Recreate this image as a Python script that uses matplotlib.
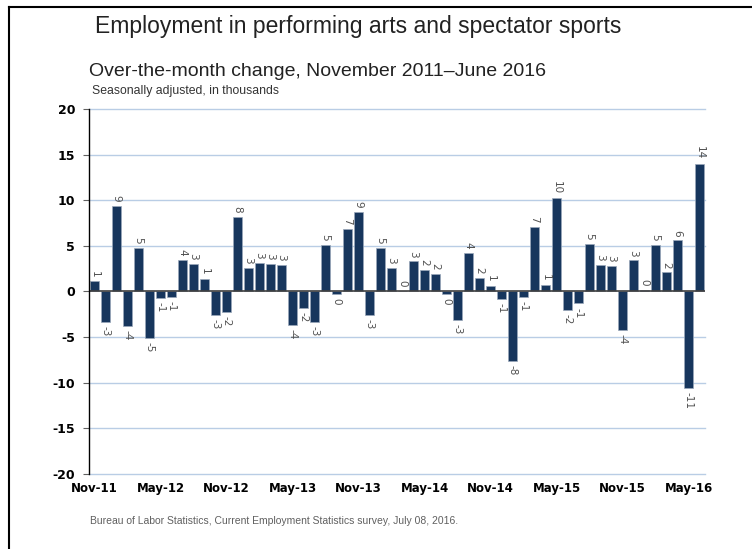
import matplotlib.pyplot as plt
from matplotlib.lines import Line2D

# monthly over-the-month change, Nov 2011 .. Jun 2016 (thousands)
values = [
    1.1, -3.3,                                                     # 2011
    9.4, -3.8, 4.8, -5.1, -0.7, -0.6, 3.5, 3.0, 1.4, -2.6, -2.2, 8.2,   # 2012
    2.6, 3.1, 3.0, 2.9, -3.7, -1.8, -3.3, 5.1, -0.3, 6.9, 8.7, -2.55,   # 2013
    4.8, 2.6, 0.1, 3.3, 2.4, 1.9, -0.3, -3.1, 4.2, 1.5, 0.6, -0.8,      # 2014
    -7.6, -0.55, 7.1, 0.7, 10.2, -2.0, -1.3, 5.2, 2.9, 2.8, -4.2, 3.4,  # 2015
    0.2, 5.1, 2.1, 5.6, -10.6, 14.0,                               # 2016
]
tick_labels = ['Nov-11', 'May-12', 'Nov-12', 'May-13', 'Nov-13',
               'May-14', 'Nov-14', 'May-15', 'Nov-15', 'May-16']
y_ticks = [20, 15, 10, 5, 0, -5, -10, -15, -20]

bar_color = '#17365d'
grid_color = '#b9cde5'

fig = plt.figure(figsize=(7.52, 5.49), dpi=100)
ax = fig.add_axes([0.1184, 0.1366, 0.8191, 0.6649])

x = list(range(len(values)))
ax.bar(x, values, width=0.8, color=bar_color, edgecolor='#9aa8ba', linewidth=0.5, zorder=3)

for xi, v in zip(x, values):
    lab = str(int(round(v)))
    if v >= 0:
        ax.annotate(lab, (xi, v), xytext=(0, 3), textcoords='offset points',
                    rotation=-90, ha='center', va='bottom', fontsize=7.5, color='#505050')
    else:
        ax.annotate(lab, (xi, v), xytext=(0, -3), textcoords='offset points',
                    rotation=-90, ha='center', va='top', fontsize=7.5, color='#505050')

ax.set_xlim(-0.5, len(values) - 0.5)
ax.set_ylim(-20, 20)
ax.set_yticks(y_ticks)
ax.set_yticklabels([str(t) for t in y_ticks], fontweight='bold', fontsize=9)
ax.set_xticks(range(0, len(values), 6))
ax.set_xticklabels(tick_labels, fontweight='bold', fontsize=8.5)
ax.tick_params(axis='x', length=0, pad=6)
ax.tick_params(axis='y', length=4, width=0.8, color='#606060', pad=6)

for t in y_ticks:
    if t != 0:
        ax.axhline(t, color=grid_color, linewidth=1, zorder=1, clip_on=False)
ax.axhline(0, color='#404040', linewidth=1.2, zorder=4)

for s in ['top', 'right', 'bottom']:
    ax.spines[s].set_visible(False)
ax.spines['left'].set_color('black')
ax.spines['left'].set_linewidth(1)
ax.spines['left'].set_zorder(5)

fig.text(0.126, 0.952, 'Employment in performing arts and spectator sports',
         fontsize=16.5, family='Liberation Sans', va='center', color='#222222')
fig.text(0.119, 0.870, 'Over-the-month change, November 2011\u2013June 2016',
         fontsize=14, family='Liberation Sans', va='center', color='#222222')
fig.text(0.122, 0.834, 'Seasonally adjusted, in thousands',
         fontsize=8.8, family='Liberation Sans', va='center', color='#333333')
fig.text(0.120, 0.051, 'Bureau of Labor Statistics, Current Employment Statistics survey, July 08, 2016.',
         fontsize=7.5, family='Liberation Sans', va='center', color='#606060')

# frame on top and left
fig.add_artist(Line2D([0.012, 0.012], [0, 0.987], transform=fig.transFigure, color='black', linewidth=1.5))
fig.add_artist(Line2D([0.012, 1.0], [0.987, 0.987], transform=fig.transFigure, color='black', linewidth=1.5))

fig.savefig('out.png', dpi=100)
